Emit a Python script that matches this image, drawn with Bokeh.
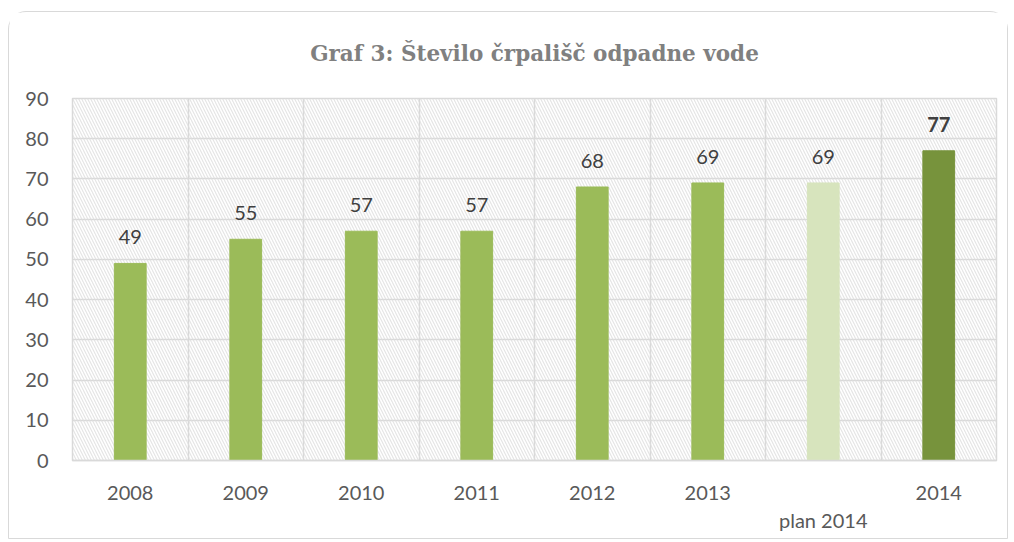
from bokeh.plotting import figure
from bokeh.models import Range1d, FixedTicker, BoxAnnotation, ColumnDataSource, Title
from bokeh.core.properties import value
from bokeh.embed import file_html
from bokeh.resources import INLINE
import numpy as np

# ---- data ----
categories = ["2008", "2009", "2010", "2011", "2012", "2013", "plan 2014", "2014"]
tick_labels = ["2008", "2009", "2010", "2011", "2012", "2013", "\nplan 2014", "2014"]
values = [49, 55, 57, 57, 68, 69, 69, 77]
bar_colors = ["#9BBB59", "#9BBB59", "#9BBB59", "#9BBB59", "#9BBB59", "#9BBB59", "#D7E4BD", "#77933C"]
label_styles = ["normal"] * 7 + ["bold"]
y_ticks = [0, 10, 20, 30, 40, 50, 60, 70, 80, 90]

centers = np.arange(len(categories)) + 0.5
src = ColumnDataSource(dict(
    x=centers, top=values, color=bar_colors,
    label=[str(v) for v in values], style=label_styles,
))

p = figure(width=1000, height=528, output_backend="svg", toolbar_location=None,
           x_range=Range1d(0, len(categories)), y_range=Range1d(0, 90),
           min_border_left=63, min_border_right=13, min_border_top=86, min_border_bottom=80)
p.margin = (11, 0, 0, 8)
p.styles = {"border": "1px solid #d9d9d9", "border-radius": "18px 18px 0 0", "background": "white"}

p.title = Title(text="Graf 3: Število črpališč odpadne vode", align="center",
                text_font="DejaVu Serif", text_font_size="21.5px", text_font_style="bold",
                text_color="#808080", offset=0, standoff=50)
# small spacer between title and plot frame
p.add_layout(Title(text=" ", text_font_size="1px", standoff=5), "above")

p.background_fill_color = "white"
p.border_fill_color = "white"
p.outline_line_color = "#d9d9d9"
p.outline_line_width = 1.5

hatch = BoxAnnotation(fill_alpha=0, line_alpha=0, hatch_pattern="\\", hatch_color="#dcdcdc",
                      hatch_scale=6, hatch_weight=1.2, hatch_alpha=0.75, level="underlay")
p.add_layout(hatch)

p.vbar(x="x", top="top", width=0.275, color="color", source=src)
p.text(x="x", y="top", text="label", text_font_style="style", source=src,
       text_align="center", text_baseline="bottom", y_offset=-19,
       text_font=value("Lato"), text_font_size="20px", text_color="#404040")

# axes
p.xaxis.ticker = FixedTicker(ticks=list(centers))
p.xaxis.major_label_overrides = {float(c): lab for c, lab in zip(centers, tick_labels)}
p.xaxis.major_label_text_font = "Lato"
p.xaxis.major_label_text_font_size = "20px"
p.xaxis.major_label_text_color = "#595959"
p.xaxis.major_label_standoff = 13
p.xaxis.axis_line_color = "#d9d9d9"
p.xaxis.axis_line_width = 1.5
p.xaxis.major_tick_line_color = None
p.xaxis.minor_tick_line_color = None

p.yaxis.ticker = FixedTicker(ticks=y_ticks)
p.yaxis.major_label_text_font = "Lato"
p.yaxis.major_label_text_font_size = "20px"
p.yaxis.major_label_text_color = "#595959"
p.yaxis.major_label_standoff = 18
p.yaxis.axis_line_color = None
p.yaxis.major_tick_line_color = None
p.yaxis.minor_tick_line_color = None

p.xgrid.ticker = FixedTicker(ticks=list(range(1, len(categories))))
p.xgrid.grid_line_color = "#d9d9d9"
p.xgrid.grid_line_width = 1.5
p.ygrid.grid_line_color = "#d9d9d9"
p.ygrid.grid_line_width = 1.5

open("out.html", "w").write(file_html(p, INLINE))
